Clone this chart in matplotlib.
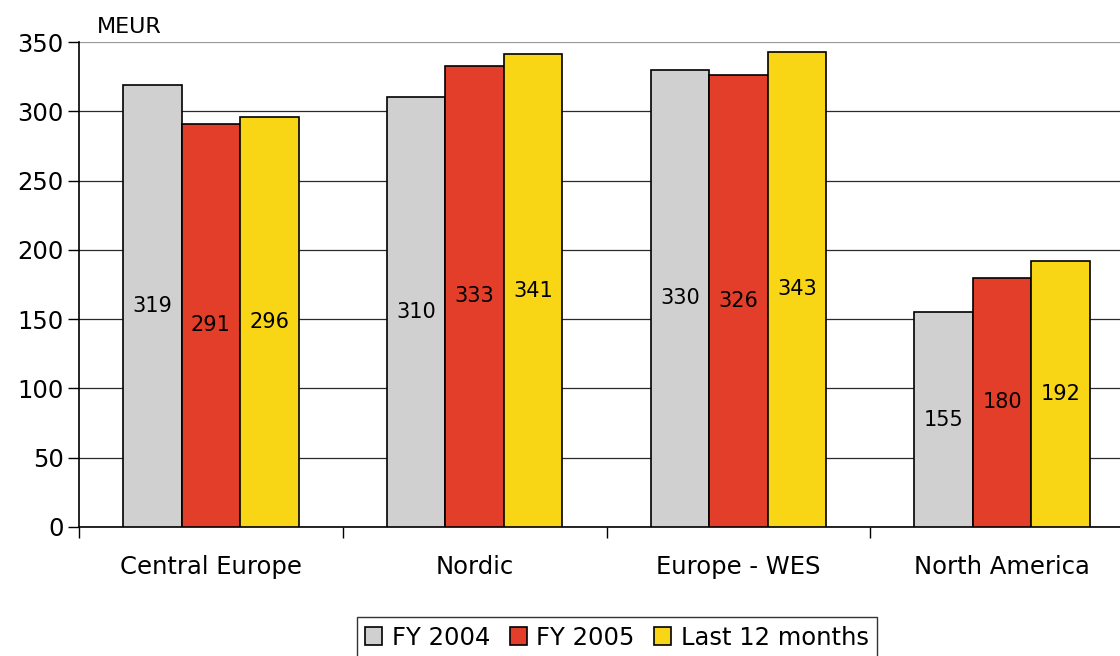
import numpy as np
from matplotlib import pyplot as plt

regions = ["Central Europe", "Nordic", "Europe - WES", "North America"]
series_names = ["FY 2004", "FY 2005", "Last 12 months"]
fy2004 = [319, 310, 330, 155]
fy2005 = [291, 333, 326, 180]
last12 = [296, 341, 343, 192]
yticks = [0, 50, 100, 150, 200, 250, 300, 350]

colors = ["#D0D0D0", "#E23E29", "#F8D616"]

plt.rcParams['font.family'] = ['DejaVu Sans']

fig = plt.figure(figsize=(11.2, 6.56), dpi=100)
ax = fig.add_axes([79 / 1120, 129 / 656, 1055 / 1120, 485 / 656])

x = np.arange(len(regions))
width = 0.222
for i, (vals, name) in enumerate(zip([fy2004, fy2005, last12], series_names)):
    bars = ax.bar(x + (i - 1) * width, vals, width, color=colors[i],
                  edgecolor="black", linewidth=1.2, label=name, zorder=3)
    for b, v in zip(bars, vals):
        ax.text(b.get_x() + b.get_width() / 2, v / 2, str(v),
                ha="center", va="center", fontsize=15, zorder=4)

ax.set_xlim(-0.5, len(regions) - 0.5)
ax.set_ylim(0, 350)
ax.set_yticks(yticks)
ax.tick_params(axis="y", labelsize=17.5, length=8, width=1, direction="out", pad=3)
ax.yaxis.grid(True, color="#2a2a2a", linewidth=0.9, zorder=0)
ax.yaxis.get_gridlines()[-1].set_color("#999999")

# category labels between the boundary ticks
ax.set_xticks(np.arange(len(regions) + 1) - 0.5)
ax.set_xticklabels([])
ax.set_xticks(x, minor=True)
ax.set_xticklabels(regions, minor=True, fontsize=17.5)
ax.tick_params(axis="x", which="major", length=8, width=1, direction="out")
ax.tick_params(axis="x", which="minor", length=0, pad=20)

for s in ["top", "right"]:
    ax.spines[s].set_visible(False)
ax.spines["left"].set_linewidth(1.2)
ax.spines["bottom"].set_linewidth(1.2)

fig.text(97 / 1120, 1 - 27 / 656, "MEUR", fontsize=16, va="center", ha="left")

leg = fig.legend(loc="upper center", bbox_to_anchor=(617 / 1120, 1 - 617 / 656),
                 ncol=3, fontsize=17.5, frameon=True, fancybox=False,
                 edgecolor="black", handlelength=0.7, handleheight=0.7,
                 handletextpad=0.4, columnspacing=0.8, borderpad=0.35,
                 borderaxespad=0)
leg.get_frame().set_linewidth(1)

fig.savefig("out.png", dpi=100)
